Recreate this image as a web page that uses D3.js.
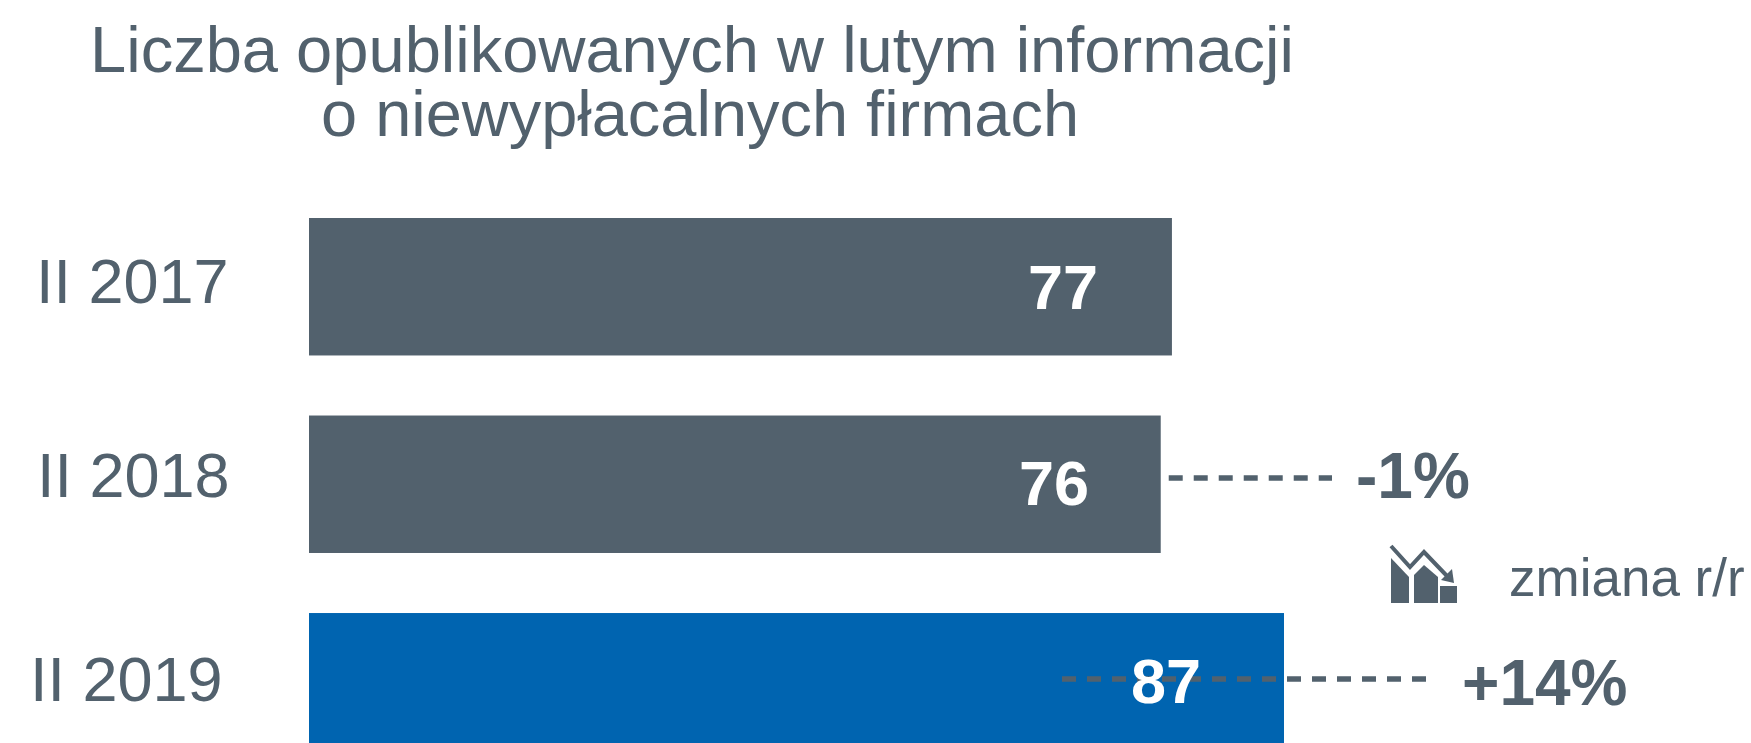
<!DOCTYPE html>
<html><head><meta charset="utf-8">
<script src="https://cdn.jsdelivr.net/npm/d3@7"></script>
<style>html,body{margin:0;padding:0;background:#fff;overflow:hidden}svg{display:block}text{font-family:"Liberation Sans",Arial,sans-serif}</style>
</head><body><svg id="c" width="1751" height="743"></svg>
<script>
const titleLines = ["Liczba opublikowanych w lutym informacji","o niewypłacalnych firmach"];
const categories = ["II 2017","II 2018","II 2019"];
const values = [77,76,87];
const barColors = ["#52616d","#52616d","#0064b0"];
const changes = ["-1%","+14%"];
const legendLabel = "zmiana r/r";
const ink = "#52616d";

const svg = d3.select("#c");
const x = d3.scaleLinear().domain([0,87]).range([309,1284]);
const y = d3.scaleBand().domain(categories).range([218,750.5]).paddingInner(0.304).paddingOuter(0);

svg.selectAll(".t").data(titleLines).join("text").attr("class","t")
  .attr("x",(d,i)=>[692,700][i]).attr("y",(d,i)=>[72,136][i]).attr("text-anchor","middle")
  .attr("font-size",65).attr("fill",ink).text(d=>d)
  .attr("textLength",(d,i)=>[1204,758][i]).attr("lengthAdjust","spacingAndGlyphs");

svg.selectAll(".b").data(values).join("rect").attr("class","b")
  .attr("x",x(0)).attr("y",(d,i)=>y(categories[i]))
  .attr("width",d=>x(d)-x(0)).attr("height",y.bandwidth())
  .attr("fill",(d,i)=>barColors[i]);

svg.selectAll(".cat").data(categories).join("text").attr("class","cat")
  .attr("x",(d,i)=>[36,37,30][i]).attr("y",(d,i)=>[303,497,701][i])
  .attr("font-size",63).attr("fill",ink).text(d=>d);

svg.append("line").attr("x1",x(76)+8).attr("x2",1332).attr("y1",478).attr("y2",478)
  .attr("stroke",ink).attr("stroke-width",5.5).attr("stroke-dasharray","14 11");
svg.append("line").attr("x1",1062).attr("x2",1430).attr("y1",679).attr("y2",679)
  .attr("stroke",ink).attr("stroke-width",5.5).attr("stroke-dasharray","14 11");

svg.selectAll(".v").data(values).join("text").attr("class","v")
  .attr("x",(d,i)=>[1063,1054,1166][i]).attr("y",(d,i)=>[309,505,703][i])
  .attr("text-anchor","middle").attr("font-size",63).attr("font-weight",700).attr("fill","#fff").text(d=>d);

svg.selectAll(".ch").data(changes).join("text").attr("class","ch")
  .attr("x",(d,i)=>[1356,1462][i]).attr("y",(d,i)=>[498,705][i])
  .attr("font-size",64).attr("font-weight",700).attr("fill",ink).text(d=>d);

svg.append("text").attr("x",1509).attr("y",596).attr("font-size",53).attr("fill",ink).text(legendLabel);

const ic = svg.append("g").attr("transform","translate(1391,545)").attr("fill",ink);
ic.append("path").attr("d","M0 13 L18 32 V58 H0 Z");
ic.append("path").attr("d","M23 58 V30 L33 20 L47 32 V58 Z");
ic.append("rect").attr("x",49).attr("y",41).attr("width",17).attr("height",17);
ic.append("path").attr("d","M0 1 L19 22 L33 7 L56 31").attr("fill","none").attr("stroke",ink).attr("stroke-width",4);
ic.append("path").attr("d","M50 35 L61 24 L63 38 Z");
</script></body></html>
